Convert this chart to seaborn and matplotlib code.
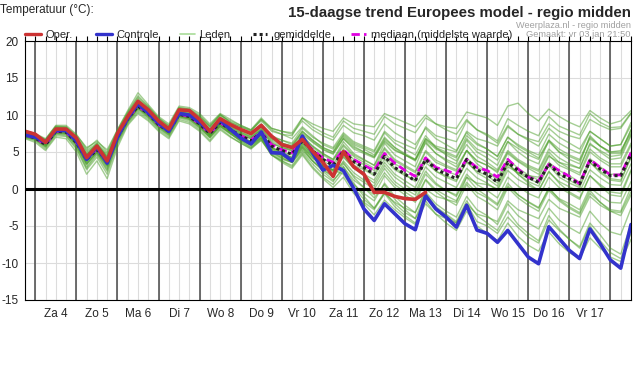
import numpy as np
import pandas as pd
import seaborn as sns
import matplotlib.pyplot as plt
from matplotlib.lines import Line2D

# 6-uurlijkse stappen, vanaf vr 3 jan 18:00 t/m za 18 jan 12:00
stappen = list(range(60))
dagen = ["Za 4", "Zo 5", "Ma 6", "Di 7", "Wo 8", "Do 9", "Vr 10",
         "Za 11", "Zo 12", "Ma 13", "Di 14", "Wo 15", "Do 16", "Vr 17"]

oper = [7.8, 7.4, 6.3, 8.1, 8.1, 6.9, 4.25, 5.8, 3.8, 7.5,
        9.8, 11.85, 10.7, 9.2, 8.1, 10.7, 10.6, 9.4, 7.8, 9.5,
        8.7, 8.05, 7.5, 8.6, 7.15, 6.0, 5.6, 6.7, 5.1, 3.6,
        1.7, 5.05, 3.0, 2.0, -0.45, -0.45, -1.0, -1.3, -1.4, -0.45]

controle = [7.3, 7.0, 6.3, 7.9, 7.9, 6.5, 4.0, 5.7, 3.5, 7.0,
            9.6, 11.5, 10.3, 8.9, 7.8, 10.2, 10.0, 9.0, 7.8, 9.3,
            8.05, 6.9, 6.1, 7.7, 4.9, 4.85, 3.8, 7.15, 4.9, 2.55,
            3.2, 2.5, 0.1, -2.7, -4.25, -2.0, -3.35, -4.7, -5.5, -0.9,
            -2.7, -3.8, -5.15, -2.2, -5.55, -6.0, -7.2, -5.6, -7.4, -9.2,
            -10.1, -5.1, -6.7, -8.3, -9.4, -5.4, -7.4, -9.6, -10.7, -4.8]

gemiddelde = [7.3, 6.9, 6.0, 7.8, 7.7, 6.3, 4.0, 5.3, 3.8, 7.0,
              9.5, 11.2, 10.2, 8.7, 7.8, 10.1, 9.8, 8.8, 7.5, 9.0,
              8.0, 7.2, 6.5, 7.6, 5.8, 5.2, 4.7, 6.5, 5.2, 4.0,
              3.2, 5.1, 3.7, 2.9, 2.0, 4.4, 2.9, 2.0, 1.1, 4.0,
              2.7, 2.0, 1.4, 4.0, 2.6, 2.0, 0.9, 3.6, 2.5, 1.6,
              0.9, 3.4, 2.0, 1.4, 0.7, 3.8, 2.7, 1.8, 1.8, 4.7]

mediaan = [7.3, 6.9, 6.0, 7.8, 7.7, 6.3, 4.1, 5.4, 3.8, 7.0,
           9.5, 11.2, 10.2, 8.7, 7.8, 10.1, 9.8, 8.8, 7.5, 9.0,
           8.0, 7.2, 6.6, 7.7, 6.0, 5.3, 4.9, 6.7, 5.3, 4.2,
           3.6, 5.3, 4.0, 3.2, 2.5, 4.8, 3.5, 2.5, 1.7, 4.2,
           2.9, 2.5, 2.0, 4.0, 2.9, 2.5, 1.6, 4.0, 2.7, 1.6,
           1.1, 3.35, 2.5, 1.7, 0.7, 4.0, 2.9, 1.9, 1.9, 4.9]

leden = [
    [7.6, 7.2, 6.5, 8.3, 8.2, 7.0, 5.0, 6.0, 4.6, 7.6, 10.0, 12.0, 10.8, 9.3, 8.2, 10.8, 10.5, 9.6, 8.3, 9.8,
     8.8, 8.0, 7.4, 8.6, 7.0, 6.6, 6.2, 8.2, 7.0, 6.2, 5.6, 7.6, 6.4, 5.8, 5.2, 7.8, 6.6, 6.0, 5.4, 8.4,
     7.2, 6.8, 6.4, 9.2, 8.0, 7.4, 6.5, 9.5, 8.6, 7.8, 7.2, 9.8, 8.5, 7.9, 7.3, 10.2, 9.0, 8.3, 8.4, 10.3],
    [7.9, 7.5, 6.8, 8.5, 8.4, 7.3, 5.6, 6.4, 5.3, 8.0, 10.4, 12.6, 11.2, 9.6, 8.6, 11.0, 10.8, 10.0, 8.6, 10.1,
     9.0, 8.4, 7.9, 9.2, 7.8, 7.4, 7.2, 9.6, 8.4, 7.6, 7.0, 9.2, 8.2, 7.8, 7.4, 9.8, 8.8, 8.2, 7.6, 9.6,
     8.8, 8.4, 8.2, 10.4, 10.0, 9.6, 8.6, 11.2, 11.6, 10.2, 9.2, 10.8, 9.8, 9.0, 8.4, 10.6, 9.6, 8.8, 9.2, 10.6],
    [7.1, 6.8, 6.0, 7.8, 7.9, 6.6, 4.5, 5.8, 4.2, 7.2, 9.8, 11.6, 10.5, 9.0, 8.0, 10.5, 10.2, 9.2, 7.9, 9.4,
     8.5, 7.7, 7.0, 8.1, 6.6, 6.0, 5.5, 7.4, 6.3, 5.3, 4.7, 6.8, 5.6, 5.0, 4.3, 6.6, 5.3, 4.6, 3.9, 6.6,
     5.4, 4.8, 4.2, 6.8, 5.4, 4.8, 3.9, 6.4, 5.5, 4.6, 4.0, 6.4, 5.0, 4.4, 3.8, 6.8, 5.8, 5.0, 5.2, 7.6],
    [7.4, 7.0, 6.1, 7.7, 7.6, 6.2, 3.7, 5.2, 3.4, 6.8, 9.3, 11.0, 10.0, 8.6, 7.6, 10.0, 9.7, 8.7, 7.4, 8.9,
     8.0, 7.3, 6.8, 7.9, 6.2, 5.6, 5.3, 7.0, 5.8, 4.8, 4.0, 6.0, 4.6, 3.9, 3.2, 5.6, 4.0, 3.2, 2.4, 5.2,
     3.9, 3.2, 2.6, 5.2, 3.8, 3.2, 2.2, 4.8, 3.7, 2.8, 2.0, 4.6, 3.2, 2.6, 1.9, 5.0, 3.9, 3.0, 3.0, 5.9],
    [7.2, 6.8, 5.8, 7.6, 7.5, 6.0, 3.3, 5.0, 3.0, 6.6, 9.2, 10.9, 9.9, 8.5, 7.5, 9.8, 9.6, 8.6, 7.2, 8.8,
     7.7, 6.9, 6.3, 7.4, 5.6, 5.0, 4.6, 6.4, 5.1, 4.1, 3.4, 5.4, 4.0, 3.3, 2.5, 4.9, 3.4, 2.6, 1.7, 4.3,
     3.0, 2.4, 1.9, 4.2, 2.9, 2.4, 1.5, 4.1, 2.8, 1.9, 1.2, 3.6, 2.5, 1.8, 0.9, 4.1, 3.0, 2.0, 2.0, 5.0],
    [7.0, 6.6, 5.6, 7.4, 7.2, 5.6, 2.8, 4.6, 2.4, 6.2, 9.0, 10.6, 9.6, 8.2, 7.2, 9.6, 9.2, 8.2, 6.9, 8.4,
     7.4, 6.6, 6.0, 7.0, 5.2, 4.5, 4.0, 5.8, 4.4, 3.2, 2.4, 4.3, 2.8, 2.0, 1.2, 3.6, 2.0, 1.1, 0.2, 3.0,
     1.6, 0.9, 0.2, 2.8, 1.5, 0.8, -0.2, 2.5, 1.3, 0.5, -0.2, 2.3, 1.0, 0.3, -0.4, 2.6, 1.5, 0.6, 0.5, 3.4],
    [7.5, 7.1, 6.2, 7.9, 7.8, 6.3, 4.0, 5.4, 3.6, 6.9, 9.4, 11.1, 10.1, 8.6, 7.7, 10.0, 9.6, 8.5, 7.2, 8.7,
     7.6, 6.7, 5.9, 6.9, 5.0, 4.2, 3.6, 5.2, 3.8, 2.6, 1.6, 3.4, 1.8, 0.9, 0.0, 2.2, 0.6, -0.4, -1.3, 1.3,
     -0.1, -0.9, -1.6, 0.9, -0.5, -1.2, -2.2, 0.4, -0.8, -1.7, -2.5, 0.0, -1.3, -2.0, -2.8, 0.2, -0.9, -1.8, -1.9, 1.0],
    [7.2, 6.9, 6.1, 7.8, 7.8, 6.4, 4.1, 5.6, 3.5, 6.9, 9.6, 11.4, 10.3, 8.9, 7.8, 10.2, 9.9, 8.8, 7.5, 9.0,
     7.9, 6.8, 6.0, 7.4, 5.0, 4.6, 3.6, 6.2, 4.5, 2.8, 2.6, 2.0, -0.2, -2.0, -3.5, -1.5, -2.8, -3.9, -4.8, -1.2,
     -2.6, -3.6, -4.6, -2.0, -4.4, -5.0, -6.0, -3.8, -5.2, -6.5, -7.3, -4.2, -5.6, -6.8, -7.8, -4.6, -6.2, -8.0, -8.8, -4.8],
    [7.6, 7.2, 6.4, 8.1, 8.0, 6.6, 4.3, 5.8, 3.9, 7.2, 9.7, 11.6, 10.5, 9.0, 8.0, 10.4, 10.1, 9.1, 7.7, 9.3,
     8.2, 7.2, 6.4, 7.8, 5.6, 5.0, 4.2, 6.6, 5.0, 3.6, 2.4, 3.0, 0.8, -1.0, -2.6, -0.4, -2.0, -3.2, -4.0, -0.6,
     -2.4, -3.4, -4.4, -1.6, -3.6, -4.6, -5.6, -3.0, -4.8, -6.0, -7.0, -3.6, -5.4, -6.8, -8.0, -5.0, -7.0, -8.6, -9.4, -6.0],
    [6.9, 6.5, 5.4, 7.2, 7.1, 5.4, 2.6, 4.3, 2.0, 6.0, 8.8, 10.4, 9.4, 8.0, 7.0, 9.4, 9.0, 8.0, 6.6, 8.2,
     7.1, 6.2, 5.5, 6.6, 4.6, 3.8, 3.2, 5.0, 3.4, 2.0, 1.0, 3.0, 1.2, 0.2, -0.8, 1.8, 0.2, -0.8, -1.8, 1.2,
     -0.4, -1.4, -2.2, 0.6, -1.0, -1.8, -2.8, 0.2, -1.2, -2.2, -3.0, -0.2, -1.6, -2.6, -3.4, -0.6, -1.8, -2.8, -3.0, 0.2],
    [7.7, 7.3, 6.6, 8.4, 8.3, 6.9, 4.6, 5.9, 4.4, 7.5, 10.0, 11.8, 10.6, 9.2, 8.2, 10.6, 10.4, 9.4, 8.0, 9.6,
     8.7, 8.0, 7.4, 8.8, 7.2, 6.6, 6.0, 7.8, 6.6, 5.6, 5.0, 7.0, 5.8, 5.0, 4.4, 6.8, 5.6, 4.6, 3.8, 6.2,
     4.8, 3.8, 3.0, 5.2, 3.4, 2.4, 1.2, 3.6, 2.0, 0.8, -0.2, 2.4, 0.8, -0.4, -1.2, 1.8, 0.4, -0.8, -1.0, 2.4],
    [7.0, 6.7, 5.7, 7.5, 7.4, 5.8, 3.0, 4.8, 2.6, 6.4, 9.0, 10.8, 9.7, 8.3, 7.3, 9.7, 9.4, 8.3, 7.0, 8.5,
     7.5, 6.4, 5.6, 6.8, 4.6, 3.6, 2.8, 4.6, 2.8, 1.4, 0.2, 1.6, -0.6, -1.8, -2.8, -0.6, -1.8, -2.6, -3.2, 0.0,
     -1.0, -1.4, -1.8, 1.6, 0.8, 0.6, 0.0, 3.0, 2.2, 1.8, 1.6, 4.4, 3.6, 3.2, 2.8, 6.0, 5.2, 4.4, 4.6, 7.4],
    [7.3, 6.9, 5.9, 7.6, 7.6, 6.1, 3.6, 5.1, 3.2, 6.7, 9.2, 11.0, 10.0, 8.6, 7.6, 10.0, 9.6, 8.6, 7.3, 8.8,
     7.8, 7.0, 6.3, 7.3, 5.4, 4.8, 4.3, 6.2, 4.8, 3.8, 3.0, 5.2, 3.6, 2.8, 2.0, 4.6, 2.8, 2.0, 1.0, 4.2,
     2.4, 1.6, 1.0, 3.8, 2.2, 1.4, 0.4, 3.4, 2.0, 1.0, 0.4, 3.2, 1.6, 0.8, 0.2, 3.6, 2.2, 1.2, 1.0, 4.4],
    [7.4, 7.0, 6.0, 7.7, 7.6, 6.0, 3.4, 5.0, 2.8, 6.6, 9.2, 10.9, 9.8, 8.4, 7.4, 9.8, 9.4, 8.4, 7.0, 8.5,
     7.5, 6.5, 5.7, 6.8, 4.6, 3.8, 3.0, 4.8, 3.0, 1.6, 0.6, 2.4, 0.6, -0.6, -1.6, 0.8, -1.0, -2.2, -3.2, -0.4,
     -2.0, -3.0, -3.8, -1.0, -2.8, -3.6, -4.8, -2.0, -3.6, -4.6, -5.4, -2.6, -4.2, -5.2, -6.0, -3.0, -4.6, -5.8, -6.2, -2.6],
    [7.8, 7.4, 6.7, 8.6, 8.6, 7.4, 5.4, 6.6, 5.0, 8.0, 10.6, 13.0, 11.4, 9.8, 8.8, 11.2, 11.0, 10.2, 8.8, 10.2,
     9.4, 8.6, 8.0, 9.4, 8.0, 7.4, 6.8, 8.4, 7.2, 6.0, 5.4, 7.2, 6.0, 5.4, 4.6, 7.0, 5.6, 4.8, 4.0, 6.8,
     5.6, 5.0, 4.4, 7.2, 6.0, 5.4, 4.4, 7.0, 6.0, 5.2, 4.6, 7.4, 6.2, 5.4, 4.8, 7.8, 6.8, 5.8, 6.0, 8.6],
    [6.8, 6.3, 5.2, 7.0, 6.8, 5.0, 2.0, 3.8, 1.4, 5.6, 8.6, 10.2, 9.2, 7.8, 6.8, 9.2, 8.8, 7.8, 6.4, 8.0,
     7.0, 6.2, 5.4, 6.6, 4.8, 4.0, 3.6, 5.6, 4.2, 3.2, 2.6, 4.6, 3.2, 2.6, 1.8, 4.0, 2.6, 1.8, 1.2, 3.6,
     2.4, 1.8, 1.2, 3.6, 2.4, 1.8, 0.8, 3.4, 2.2, 1.4, 0.8, 3.4, 2.0, 1.2, 0.4, 3.6, 2.4, 1.4, 1.2, 4.2],
    [7.5, 7.1, 6.3, 8.0, 7.9, 6.5, 4.2, 5.6, 3.6, 7.0, 9.5, 11.3, 10.3, 8.8, 7.8, 10.2, 9.8, 8.8, 7.4, 8.9,
     7.8, 6.9, 6.2, 7.2, 5.4, 4.6, 4.0, 5.8, 4.2, 3.0, 2.0, 3.6, 1.6, 0.2, -1.2, 0.6, -1.4, -2.8, -4.0, -1.6,
     -3.4, -4.6, -5.6, -3.0, -5.0, -6.0, -7.0, -4.6, -6.4, -7.6, -8.4, -5.8, -7.4, -8.6, -9.4, -6.6, -8.0, -9.2, -9.8, -6.8],
    [7.6, 7.1, 6.3, 8.0, 8.0, 6.7, 4.6, 5.8, 4.0, 7.2, 9.8, 11.6, 10.4, 9.0, 8.0, 10.4, 10.1, 9.1, 7.8, 9.3,
     8.4, 7.6, 7.1, 8.4, 6.8, 6.2, 5.8, 7.8, 6.6, 5.6, 5.0, 7.4, 6.2, 5.6, 5.0, 7.6, 6.2, 5.4, 4.6, 7.2,
     5.6, 4.6, 3.8, 6.0, 4.4, 3.6, 2.6, 5.2, 4.0, 3.2, 2.6, 5.4, 4.2, 3.4, 2.8, 6.2, 5.0, 4.0, 4.2, 7.2],
    [7.1, 6.7, 5.8, 7.5, 7.4, 5.9, 3.4, 4.9, 3.2, 6.6, 9.2, 11.0, 10.0, 8.5, 7.5, 9.9, 9.5, 8.5, 7.1, 8.6,
     7.6, 6.6, 5.9, 7.0, 5.0, 4.2, 3.6, 5.4, 3.8, 2.6, 1.8, 3.8, 2.2, 1.2, 0.4, 2.8, 1.0, 0.0, -0.8, 2.0,
     0.6, -0.2, -0.8, 2.0, 0.6, -0.2, -1.2, 1.6, 0.4, -0.6, -1.2, 1.6, 0.2, -0.6, -1.4, 1.8, 0.6, -0.4, -0.6, 2.6],
    [7.8, 7.3, 6.5, 8.2, 8.1, 6.8, 4.8, 6.0, 4.4, 7.6, 10.2, 12.2, 11.0, 9.5, 8.4, 10.8, 10.6, 9.8, 8.4, 10.0,
     9.2, 8.6, 8.0, 9.6, 8.2, 7.8, 7.4, 9.2, 8.0, 7.2, 6.6, 8.6, 7.6, 7.2, 6.6, 8.8, 7.6, 6.8, 6.0, 8.2,
     6.8, 6.0, 5.2, 7.6, 6.2, 5.4, 4.4, 7.0, 5.8, 5.0, 4.2, 6.6, 5.4, 4.6, 4.0, 7.0, 5.8, 5.0, 5.0, 8.0],
    [7.5, 7.2, 6.4, 8.2, 8.1, 6.8, 4.6, 6.2, 4.2, 7.4, 9.9, 11.8, 10.6, 9.1, 8.1, 10.6, 10.3, 9.3, 8.0, 9.6,
     8.6, 7.8, 7.2, 8.4, 6.8, 6.2, 5.8, 7.6, 6.4, 5.4, 4.8, 6.8, 5.4, 4.8, 4.2, 6.4, 5.2, 4.6, 4.0, 6.8,
     5.8, 5.4, 5.0, 7.8, 6.8, 6.4, 5.8, 8.4, 7.4, 6.8, 6.4, 8.8, 7.8, 7.2, 6.8, 9.4, 8.6, 8.0, 8.2, 10.2],
    [7.3, 6.9, 6.0, 7.7, 7.7, 6.2, 3.8, 5.4, 3.2, 6.8, 9.4, 11.2, 10.2, 8.7, 7.7, 10.0, 9.7, 8.7, 7.3, 8.8,
     7.8, 6.8, 6.1, 7.2, 5.2, 4.4, 3.8, 5.6, 3.8, 2.4, 1.2, 2.6, 0.2, -1.4, -2.6, -0.6, -2.4, -3.6, -4.6, -2.0,
     -3.4, -4.0, -4.6, -2.0, -3.4, -3.8, -4.4, -1.6, -2.8, -3.4, -4.0, -1.4, -2.6, -3.2, -3.8, -1.0, -2.2, -3.0, -3.2, -0.4],
    [7.2, 6.8, 6.0, 7.9, 7.8, 6.4, 4.4, 5.6, 4.0, 7.1, 9.7, 11.5, 10.4, 8.9, 7.9, 10.3, 10.0, 9.0, 7.6, 9.2,
     8.2, 7.4, 6.8, 8.2, 6.4, 5.8, 5.2, 7.2, 5.8, 4.8, 4.0, 6.4, 4.8, 4.0, 3.2, 6.2, 4.6, 3.8, 3.0, 6.4,
     4.8, 4.0, 3.4, 6.6, 5.0, 4.2, 3.2, 6.4, 5.0, 4.0, 3.4, 6.6, 5.0, 4.0, 3.4, 7.2, 5.8, 4.8, 4.8, 8.0],
    [7.4, 7.0, 6.2, 7.9, 7.8, 6.4, 3.9, 5.5, 3.4, 6.9, 9.5, 11.3, 10.2, 8.8, 7.8, 10.1, 9.8, 8.7, 7.4, 8.9,
     7.9, 7.0, 6.4, 7.6, 5.6, 4.8, 4.2, 6.0, 4.6, 3.4, 2.6, 4.4, 2.8, 1.8, 0.8, 3.2, 1.6, 0.6, -0.4, 2.4,
     0.8, -0.2, -1.0, 1.6, 0.0, -1.0, -2.0, 0.8, -0.8, -1.8, -2.6, 0.2, -1.4, -2.4, -3.2, -0.2, -1.8, -3.0, -3.6, -0.8],
    [7.6, 7.2, 6.4, 8.2, 8.1, 6.6, 4.4, 5.9, 4.0, 7.3, 9.8, 11.6, 10.5, 9.0, 8.0, 10.4, 10.1, 9.1, 7.8, 9.3,
     8.3, 7.5, 6.9, 8.0, 6.2, 5.6, 5.1, 6.9, 5.6, 4.6, 3.8, 5.8, 4.4, 3.6, 2.8, 5.4, 3.8, 3.0, 2.2, 5.0,
     3.6, 3.0, 2.4, 5.2, 3.8, 3.2, 2.4, 5.0, 3.8, 3.0, 2.4, 5.0, 3.6, 2.8, 2.2, 5.4, 4.2, 3.4, 3.4, 6.2],
    [7.9, 7.4, 6.6, 8.4, 8.4, 7.1, 5.2, 6.2, 4.8, 7.8, 10.3, 12.4, 11.1, 9.6, 8.5, 11.0, 10.8, 9.8, 8.5, 10.0,
     9.0, 8.4, 7.8, 9.4, 8.2, 7.8, 7.6, 9.6, 8.8, 8.2, 7.8, 9.6, 8.8, 8.6, 8.4, 10.2, 9.6, 9.0, 8.4, 10.0,
     8.8, 8.0, 7.4, 9.4, 8.0, 7.2, 6.2, 8.6, 7.4, 6.6, 5.8, 8.2, 7.0, 6.2, 5.4, 7.8, 6.8, 5.8, 6.0, 9.0],
]

W, H = 636, 373

sns.set_style("white")
plt.rcParams['font.family'] = ['Liberation Sans', 'DejaVu Sans']
plt.rcParams['axes.unicode_minus'] = False

fig = plt.figure(figsize=(W / 100, H / 100), dpi=100)
ax = fig.add_axes([25 / W, 1 - 300 / H, 606 / W, 259 / H])

rows = [(k, i, v) for k, serie in enumerate(leden) for i, v in enumerate(serie)]
df_leden = pd.DataFrame(rows, columns=["lid", "stap", "temp"])

sns.lineplot(data=df_leden, x="stap", y="temp", units="lid", estimator=None,
             color="#4a9e28", alpha=0.5, lw=1, ax=ax, legend=False, zorder=2)

ax.axhline(0, color="black", lw=2.2, zorder=2.5)

sns.lineplot(x=stappen, y=mediaan, color="#e000e0", lw=2, linestyle=(0, (3, 1.5)),
             ax=ax, zorder=3)
sns.lineplot(x=stappen, y=gemiddelde, color="#222222", lw=2.2, linestyle=(0, (1, 1)),
             ax=ax, zorder=3.2)
sns.lineplot(x=stappen, y=controle, color="#3333cc", lw=2.6, ax=ax, zorder=3.4)
sns.lineplot(x=stappen[:len(oper)], y=oper, color="#cc3333", lw=2.6, ax=ax, zorder=3.6)

# raster
for i in stappen:
    ax.axvline(i, color="#dcdcdc", lw=0.8, zorder=0.5)
for v in range(-15, 21, 5):
    ax.axhline(v, color="#dcdcdc", lw=0.8, zorder=0.5)
for i in range(1, 60, 4):
    ax.axvline(i, color="#555555", lw=1.2, zorder=1)

ax.set_xlim(0, 59)
ax.set_ylim(-15, 20)
labels = [""] * 60
for d, naam in enumerate(dagen):
    labels[3 + 4 * d] = naam
ax.set_xticks(stappen)
ax.set_xticklabels(labels)
ax.set_yticks(range(-15, 21, 5))
ax.set_xlabel("")
ax.set_ylabel("")
ax.tick_params(axis="both", direction="out", length=3.6, width=0.8, color="black",
               labelsize=8.5, pad=1)
ax.tick_params(axis="x", top=True, pad=2)
for s in ax.spines.values():
    s.set_color("black")
    s.set_linewidth(0.8)
    s.set_zorder(4)

# teksten boven de grafiek
def fx(x):
    return x / W

def fy(y):
    return 1 - y / H

fig.text(fx(0), fy(10), "Temperatuur (°C):", fontsize=8.5, va="center", ha="left")
fig.text(fx(631), fy(12.5), "15-daagse trend Europees model - regio midden",
         fontsize=10.8, fontweight="bold", va="center", ha="right")
fig.text(fx(631), fy(25.5), "Weerplaza.nl - regio midden", fontsize=6.6,
         color="#a0a0a0", va="center", ha="right")
fig.text(fx(631), fy(34.5), "Gemaakt: vr 03 jan 21:50", fontsize=6.7,
         color="#a0a0a0", va="center", ha="right")

legenda = [
    (25, 41, 45, "Oper.", dict(color="#cc3333", lw=2.4)),
    (96, 112, 116, "Controle", dict(color="#3333cc", lw=2.4)),
    (180, 195, 199, "Leden", dict(color="#a8dc98", lw=1.2)),
    (253, 267, 273, "gemiddelde", dict(color="#222222", lw=2.2, linestyle=(0, (1, 1)))),
    (351, 366, 371, "mediaan (middelste waarde)", dict(color="#e000e0", lw=2, linestyle=(0, (3, 1.5)))),
]
for x0, x1, xt, tekst, stijl in legenda:
    fig.add_artist(Line2D([fx(x0), fx(x1)], [fy(34), fy(34)], transform=fig.transFigure, **stijl))
    fig.text(fx(xt), fy(34.5), tekst, fontsize=8, va="center", ha="left")

fig.savefig("out.png", dpi=100, facecolor="white")
